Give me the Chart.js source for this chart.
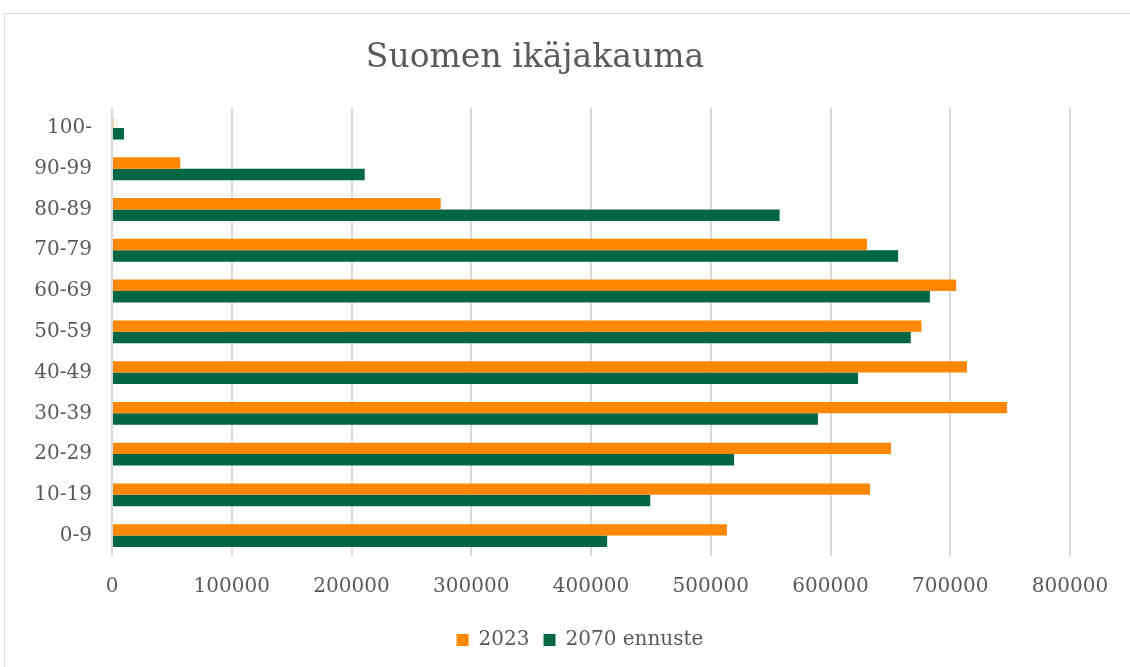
<!DOCTYPE html>
<html>
<head>
<meta charset="utf-8">
<script src="https://cdn.jsdelivr.net/npm/chart.js@4.4.1/dist/chart.umd.min.js"></script>
<style>
  html, body { margin: 0; padding: 0; background: #fff; }
  #frame { position: absolute; left: 4px; top: 13px; width: 1200px; height: 700px; border: 1px solid #d9d9d9; }
  #wrap { position: absolute; left: 0; top: 0; width: 1130px; height: 667px; }
</style>
</head>
<body>
<div id="frame"></div>
<div id="wrap"><canvas id="ageChart"></canvas></div>
<script>
// age groups, listed top to bottom as in the chart
const ageGroups = ['100-', '90-99', '80-89', '70-79', '60-69', '50-59', '40-49', '30-39', '20-29', '10-19', '0-9'];
const pop2023 = [1200, 57000, 274500, 630500, 705000, 676000, 714000, 747500, 650500, 633000, 513500];
const pop2070 = [10000, 211000, 557500, 656500, 683000, 667000, 623000, 589500, 519500, 449500, 413500];
const xTicks = [0, 100000, 200000, 300000, 400000, 500000, 600000, 700000, 800000];

Chart.defaults.font.family = "'DejaVu Serif', 'Liberation Serif', serif";
Chart.defaults.color = '#595959';

// legend sits centred on the whole frame, not on the plot box
const legendShift = {
  id: 'legendShift',
  afterLayout(chart) {
    chart.legend.left += 45;
    chart.legend.right += 45;
  }
};

const ctx = document.getElementById('ageChart').getContext('2d');
new Chart(ctx, {
  type: 'bar',
  data: {
    labels: ageGroups,
    datasets: [
      {
        label: '2023',
        data: pop2023,
        backgroundColor: '#ff8800',
        barPercentage: 1.0,
        categoryPercentage: 0.56
      },
      {
        label: '2070 ennuste',
        data: pop2070,
        backgroundColor: '#006644',
        barPercentage: 1.0,
        categoryPercentage: 0.56
      }
    ]
  },
  plugins: [legendShift],
  options: {
    indexAxis: 'y',
    responsive: true,
    maintainAspectRatio: false,
    animation: false,
    layout: { padding: { left: 0, right: 60, top: 0, bottom: 7 } },
    scales: {
      x: {
        min: 0,
        max: 800000,
        afterBuildTicks: scale => { scale.ticks = xTicks.map(v => ({ value: v })); },
        afterFit: scale => { scale.height = 60; },
        ticks: { font: { size: 20 }, padding: 19, maxRotation: 0, callback: v => String(v) },
        grid: { color: '#d9d9d9', lineWidth: 2, drawTicks: false },
        border: { display: false }
      },
      y: {
        afterFit: scale => { scale.width = 112; },
        ticks: { font: { size: 20 }, padding: 20 },
        grid: { display: false, drawTicks: false },
        border: { display: false }
      }
    },
    plugins: {
      title: {
        display: true,
        text: 'Suomen ikäjakauma',
        font: { size: 33, weight: 'normal' },
        color: '#595959',
        padding: { top: 39, bottom: 29 }
      },
      legend: {
        position: 'bottom',
        labels: { boxWidth: 12, boxHeight: 12, font: { size: 20 }, color: '#595959', padding: 14 }
      },
      tooltip: { enabled: false }
    }
  }
});
</script>
</body>
</html>
